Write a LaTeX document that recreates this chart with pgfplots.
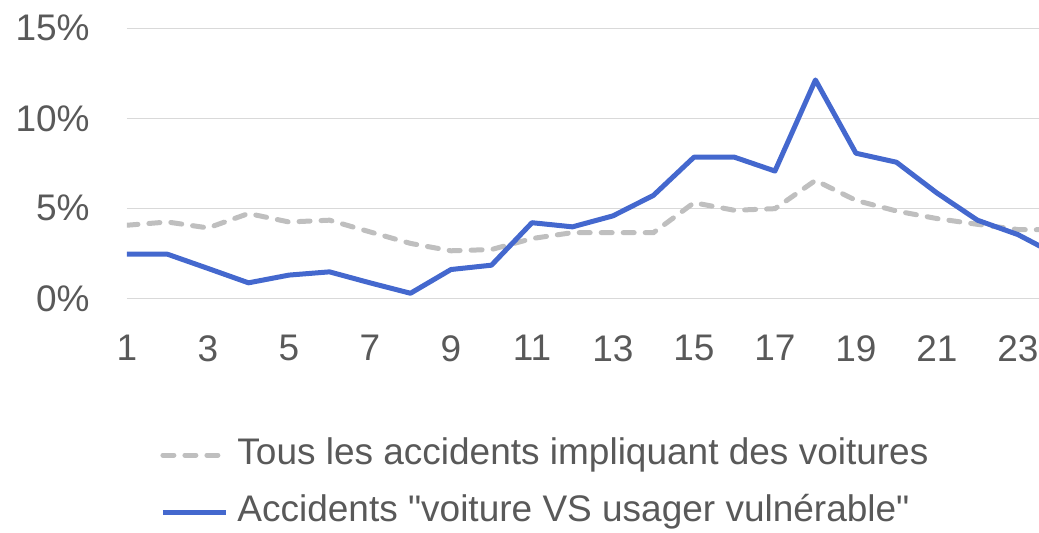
\documentclass[border=0pt]{standalone}
\usepackage{fontspec}
\setmainfont{Liberation Sans}
\usepackage{pgfplots}
\pgfplotsset{compat=1.18}
\definecolor{txt}{HTML}{595959}
\definecolor{grd}{HTML}{D9D9D9}
\definecolor{blu}{HTML}{4468CE}
\definecolor{gry}{HTML}{BFBFBF}
\begin{document}
\begin{tikzpicture}
\begin{axis}[
  scale only axis,
  width=456pt, height=135pt,
  xmin=1, xmax=23.52, ymin=0, ymax=15,
  axis line style={draw=none},
  xtick={1,3,...,23}, ytick={0,5,10,15},
  major tick length=0pt,
  ymajorgrids, grid style={grd, line width=0.8pt},
  /pgf/number format/assume math mode=true,
  yticklabel={\pgfmathprintnumber{\tick}\%},
  every tick label/.append style={font=\fontsize{18.5}{22}\selectfont, text=txt},
  yticklabel style={anchor=east, inner sep=0pt, xshift=-18.5pt},
  xticklabel style={anchor=north, inner sep=0pt, yshift=-18.35pt},
  legend style={draw=none, fill=none, inner sep=0pt, at={(0.0362,-0.686)}, anchor=west,
    font=\fontsize{18.5}{22}\selectfont, text=txt, row sep=11.4pt, column sep=4.5pt,
    nodes={inner sep=0pt, text height=13.2pt, text depth=3.9pt}},
  legend cell align=left,
  legend image code/.code={\draw[#1] (1.25pt,0pt) -- (32.75pt,0pt);},
]
\addplot[gry, line width=2.5pt, line cap=round, dash pattern=on 5.5pt off 5.5pt] coordinates {
(1,4.06)(2,4.24)(3,3.91)(4,4.71)(5,4.24)(6,4.34)(7,3.69)(8,3.05)(9,2.64)(10,2.71)(11,3.32)(12,3.65)
(13,3.65)(14,3.65)(15,5.31)(16,4.89)(17,4.98)(18,6.55)(19,5.44)(20,4.85)(21,4.43)(22,4.11)(23,3.82)(24,3.80)};
\addlegendentry{Tous les accidents impliquant des voitures}
\addplot[blu, line width=2.5pt, line join=round] coordinates {
(1,2.45)(2,2.45)(3,1.66)(4,0.86)(5,1.29)(6,1.47)(7,0.86)(8,0.28)(9,1.60)(10,1.84)(11,4.20)(12,3.97)
(13,4.58)(14,5.72)(15,7.84)(16,7.84)(17,7.07)(18,12.13)(19,8.06)(20,7.56)(21,5.85)(22,4.34)(23,3.54)(24,2.36)};
\addlegendentry{Accidents \textquotedbl voiture VS usager vulnérable\textquotedbl}
\end{axis}
\pgfresetboundingbox
\path (-63.5pt,-116.85pt) rectangle (456pt,149.15pt);
\end{tikzpicture}
\end{document}
